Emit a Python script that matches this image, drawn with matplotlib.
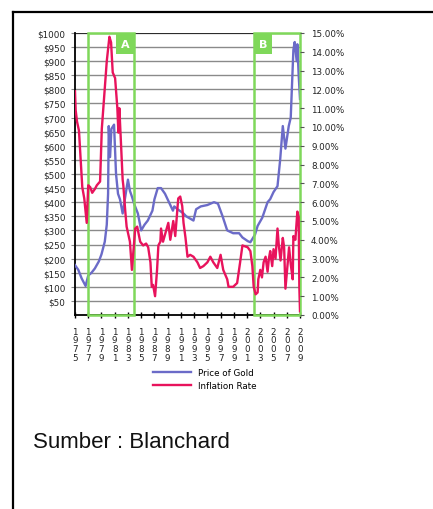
import matplotlib
matplotlib.use("Agg")
import matplotlib.pyplot as plt
from matplotlib.patches import Rectangle
from matplotlib.lines import Line2D

# gold price, USD per ounce
gold_years = [1975.0, 1975.5, 1975.75, 1976.0, 1976.6, 1977.0, 1977.5, 1978.0, 1978.6, 1979.0,
              1979.5, 1979.8, 1980.0, 1980.1, 1980.3, 1980.5, 1980.9, 1981.2, 1981.5, 1981.8,
              1982.2, 1982.6, 1983.0, 1983.3, 1983.6, 1984.0, 1984.5, 1985.0, 1985.5, 1986.0,
              1986.7, 1987.0, 1987.5, 1988.0, 1988.6, 1989.0, 1989.8, 1990.0, 1990.5, 1991.4,
              1991.8, 1992.9, 1993.3, 1994.0, 1995.0, 1996.0, 1996.6, 1997.3, 1998.0, 1998.9,
              1999.8, 2000.3, 2001.1, 2001.5, 2002.2, 2002.6, 2003.3, 2004.1, 2004.5, 2005.0,
              2005.6, 2006.0, 2006.4, 2006.8, 2007.3, 2007.6, 2008.0, 2008.2, 2008.5, 2008.6,
              2008.8, 2009.0]
gold_price = [177, 160, 145, 130, 103, 140, 150, 165, 190, 215,
              260, 320, 430, 670, 560, 660, 675, 500, 430, 410,
              360, 420, 480, 440, 420, 390, 360, 300, 320, 335,
              370, 410, 450, 450, 430, 410, 370, 385, 375, 360,
              350, 335, 375, 385, 390, 400, 395, 350, 300, 290,
              290, 275, 262, 258, 285, 316, 345, 400, 411, 436,
              457, 550, 670, 590, 670, 700, 940, 968, 900, 960,
              850, 766]

# inflation rate, percent
infl_years = [1975.0, 1975.1, 1975.3, 1975.6, 1975.9, 1976.1, 1976.4, 1976.77, 1977.0, 1977.3,
              1977.6, 1978.0, 1978.3, 1978.79, 1979.05, 1979.8, 1980.2, 1980.45, 1980.7, 1981.06,
              1981.4, 1981.56, 1981.7, 1981.9, 1982.2, 1982.3, 1982.6, 1982.8, 1983.3, 1983.6,
              1984.1, 1984.4, 1984.85, 1985.3, 1985.75, 1986.06, 1986.4, 1986.6, 1986.8, 1987.1,
              1987.4, 1987.6, 1987.9, 1988.0, 1988.3, 1989.1, 1989.4, 1989.85, 1990.15, 1990.6,
              1990.9, 1991.2, 1991.4, 1991.7, 1992.0, 1992.4, 1992.9, 1993.5, 1993.9, 1994.4,
              1995.0, 1995.45, 1995.9, 1996.5, 1997.0, 1997.4, 1998.0, 1998.2, 1998.9, 1999.5,
              1999.95, 2000.3, 2001.1, 2001.5, 2001.8, 2002.0, 2002.3, 2002.6, 2002.7, 2003.0,
              2003.25, 2003.5, 2003.8, 2004.1, 2004.3, 2004.5, 2004.8, 2005.0, 2005.3, 2005.6,
              2005.8, 2006.06, 2006.4, 2006.6, 2006.8, 2007.1, 2007.35, 2007.6, 2007.9, 2008.0,
              2008.3, 2008.6, 2008.8, 2008.9, 2009.0]
infl_rate = [11.9, 10.9, 10.3, 9.8, 8.0, 6.8, 6.2, 4.9, 6.9, 6.8,
             6.5, 6.7, 6.9, 7.1, 9.9, 13.5, 14.8, 14.5, 12.9, 12.6,
             11.0, 9.7, 11.0, 9.5, 7.2, 6.9, 5.5, 4.7, 3.9, 2.4,
             4.6, 4.7, 3.9, 3.7, 3.8, 3.6, 2.8, 1.5, 1.6, 1.0,
             2.4, 3.7, 3.9, 4.6, 3.9, 4.9, 4.0, 5.0, 4.2, 6.2,
             6.3, 5.8, 4.9, 4.1, 3.1, 3.2, 3.1, 2.8, 2.5, 2.6,
             2.8, 3.1, 2.8, 2.5, 3.2, 2.4, 1.9, 1.5, 1.5, 1.7,
             2.8, 3.7, 3.6, 3.4, 2.6, 1.5, 1.1, 1.2, 1.9, 2.4,
             2.0, 2.8, 3.1, 2.3, 3.0, 3.4, 2.6, 3.5, 3.0, 4.6,
             3.7, 2.9, 4.1, 3.6, 1.4, 2.6, 3.6, 2.7, 1.9, 4.2,
             4.0, 5.5, 5.2, 1.5, 0.2]

tick_years = list(range(1975, 2010, 2))
usd_ticks = list(range(50, 1001, 50))
pct_ticks = list(range(0, 16))

# highlighted periods
box_labels = ["A", "B"]
box_spans = [(1977.0, 1983.9), (2002.1, 2009.0)]

GOLD_COLOR = "#6b6bc8"
INFL_COLOR = "#e8135c"
BOX_COLOR = "#7fd85a"

fig = plt.figure(figsize=(4.33, 5.10), dpi=100)
ax = fig.add_axes([75 / 433, 1 - 316 / 510, 225 / 433, 282 / 510])
ax2 = ax.twinx()

ax.set_xlim(1975, 2009)
ax.set_ylim(0, 1000)
ax2.set_ylim(0, 15)

for v in usd_ticks:
    ax.axhline(v, color="#8a8a8a", lw=1.0, zorder=0)

ax.plot(gold_years, gold_price, color=GOLD_COLOR, lw=1.7, zorder=3)
ax2.plot(infl_years, infl_rate, color=INFL_COLOR, lw=1.7, zorder=3)

ax.set_yticks(usd_ticks)
ax.set_yticklabels([f"${v}" for v in usd_ticks], fontsize=6.3, color="#222222")
ax.tick_params(axis="y", length=3, width=0.8, color="#8a8a8a", pad=4)

ax.set_xticks(tick_years)
ax.set_xticklabels(["\n".join(str(y)) for y in tick_years], fontsize=6.3,
                   color="#222222", linespacing=0.95)
ax.tick_params(axis="x", direction="inout", length=5, width=1.0, pad=6)

ax2.set_yticks(pct_ticks)
ax2.set_yticklabels([f"{v:.2f}%" for v in pct_ticks], fontsize=6.3, color="#222222")
ax2.tick_params(axis="y", length=3, width=0.8, color="#555555", pad=5)

for a in (ax, ax2):
    for side in ("top", "right", "left", "bottom"):
        a.spines[side].set_visible(False)
ax.spines["left"].set_visible(True)
ax.spines["left"].set_linewidth(1.3)
ax.spines["bottom"].set_visible(True)
ax.spines["bottom"].set_linewidth(1.3)
ax.axhline(1000, color="#222222", lw=1.3, zorder=1)

# green highlight boxes with letter tags
trans = ax.get_xaxis_transform()
for label, (x0, x1) in zip(box_labels, box_spans):
    ax.add_patch(Rectangle((x0, 0), x1 - x0, 1, transform=trans, fill=False,
                           edgecolor=BOX_COLOR, lw=1.8, zorder=5, clip_on=False))
    tag_w = 2.7
    tx = x1 - tag_w if label == "A" else x0
    ax.add_patch(Rectangle((tx, 0.925), tag_w, 0.075, transform=trans,
                           facecolor=BOX_COLOR, edgecolor="none", zorder=6, clip_on=False))
    ax.text(tx + tag_w / 2, 0.962, label, transform=trans, ha="center", va="center",
            color="white", fontsize=8, fontweight="bold", zorder=7)

handles = [Line2D([], [], color=GOLD_COLOR, lw=1.7),
           Line2D([], [], color=INFL_COLOR, lw=1.7)]
fig.legend(handles, ["Price of Gold", "Inflation Rate"], loc="center",
           bbox_to_anchor=(205 / 433, 1 - 380 / 510), frameon=False,
           fontsize=6.3, handlelength=4.3, labelspacing=0.5, handletextpad=0.9)

fig.text(33 / 433, 1 - 443 / 510, "Sumber : Blanchard", fontsize=16,
         family="Liberation Sans", va="center", ha="left", color="#111111")

# outer frame
fig.add_artist(Line2D([12.5 / 433, 12.5 / 433], [0, 1 - 12.5 / 510],
                      transform=fig.transFigure, color="black", lw=1.6))
fig.add_artist(Line2D([12.5 / 433, 1], [1 - 12.5 / 510, 1 - 12.5 / 510],
                      transform=fig.transFigure, color="black", lw=1.6))

fig.savefig("out.png", dpi=100)
